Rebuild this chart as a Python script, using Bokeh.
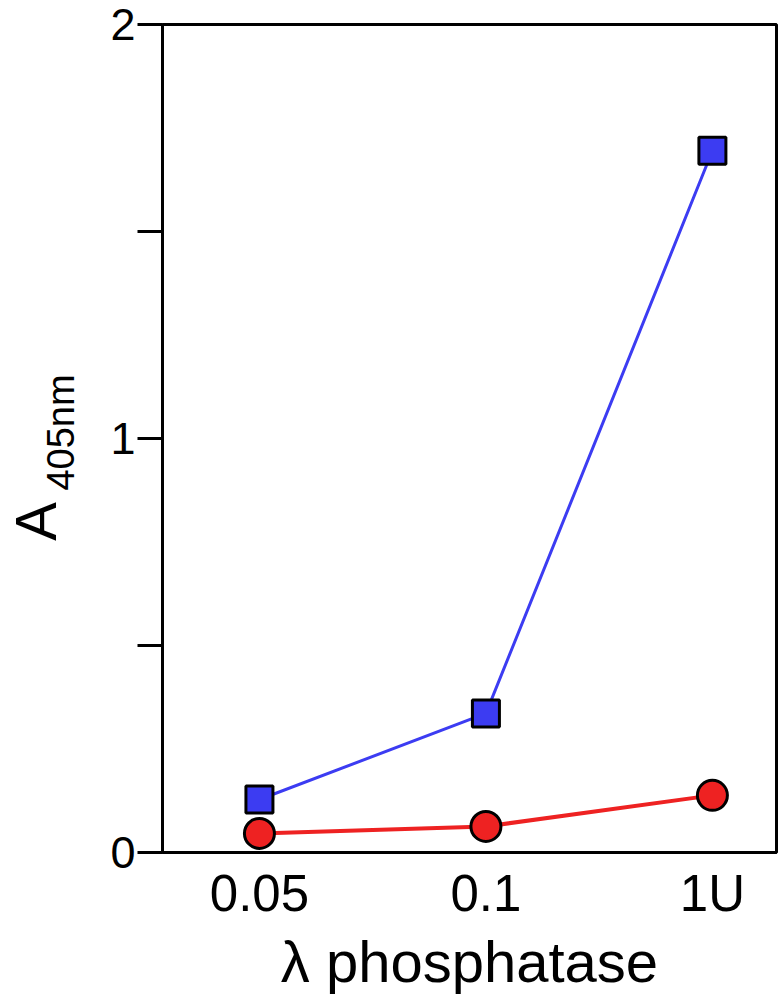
import math
from bokeh.plotting import figure
from bokeh.models import FixedTicker, Label, Range1d
from bokeh.embed import file_html
from bokeh.resources import INLINE

# data
categories = ["0.05", "0.1", "1U"]
x_pos = [0, 1, 2]
blue_values = [0.128, 0.336, 1.695]
red_values = [0.046, 0.063, 0.138]
y_ticks = [0, 0.5, 1, 1.5, 2]
y_tick_labels = {0: "0", 0.5: "", 1: "1", 1.5: "", 2: "2"}

FONT = "Liberation Sans"

p = figure(frame_width=614, frame_height=828, output_backend="svg", toolbar_location=None,
           x_range=Range1d(-0.428, 2.283), y_range=Range1d(0, 2),
           min_border_left=150, min_border_right=2, min_border_top=24, min_border_bottom=10)
p.grid.visible = False
p.outline_line_color = "black"
p.outline_line_width = 3
p.background_fill_color = "white"
p.border_fill_color = "white"

# y axis
ya = p.yaxis[0]
ya.ticker = FixedTicker(ticks=y_ticks)
ya.major_label_overrides = {k: v for k, v in y_tick_labels.items()}
ya.minor_tick_line_color = None
ya.major_tick_in = 0
ya.major_tick_out = 25
ya.major_tick_line_width = 3
ya.axis_line_width = 3
ya.major_label_text_font = FONT
ya.major_label_text_font_size = "45px"
ya.major_label_standoff = 2
ya.axis_line_color = "black"
ya.major_tick_line_color = "black"
ya.major_label_text_color = "black"

# x axis
xa = p.xaxis[0]
xa.ticker = FixedTicker(ticks=x_pos)
xa.major_label_overrides = {i: c for i, c in zip(x_pos, categories)}
xa.minor_tick_line_color = None
xa.major_tick_in = 0
xa.major_tick_out = 0
xa.axis_line_width = 3
xa.axis_line_color = "black"
xa.major_label_text_font = FONT
xa.major_label_text_font_size = "51px"
xa.major_label_text_color = "black"
xa.major_label_standoff = 12
xa.axis_label = "λ phosphatase"
xa.axis_label_text_font = FONT
xa.axis_label_text_font_size = "58px"
xa.axis_label_text_font_style = "normal"
xa.axis_label_text_color = "black"
xa.axis_label_standoff = 4

# series
p.line(x_pos, blue_values, line_color="#3c3cf2", line_width=3)
p.scatter(x_pos, blue_values, marker="square", size=27, fill_color="#3c3cf2",
          line_color="black", line_width=3)
p.line(x_pos, red_values, line_color="#ee2222", line_width=4)
p.scatter(x_pos, red_values, marker="circle", size=30, fill_color="#ee2222",
          line_color="black", line_width=3)

# y axis label with subscript (placed in the left panel so it is not clipped)
p.add_layout(Label(x=-7, y=331, x_units="screen", y_units="screen", text="A",
                   angle=math.pi / 2, text_align="center", text_baseline="middle",
                   text_font=FONT, text_font_size="58px", text_color="black"), "left")
p.add_layout(Label(x=60, y=420, x_units="screen", y_units="screen", text="405nm",
                   angle=math.pi / 2, text_align="center", text_baseline="middle",
                   text_font=FONT, text_font_size="38px", text_color="black"), "left")

open("out.html", "w").write(file_html(p, INLINE))
